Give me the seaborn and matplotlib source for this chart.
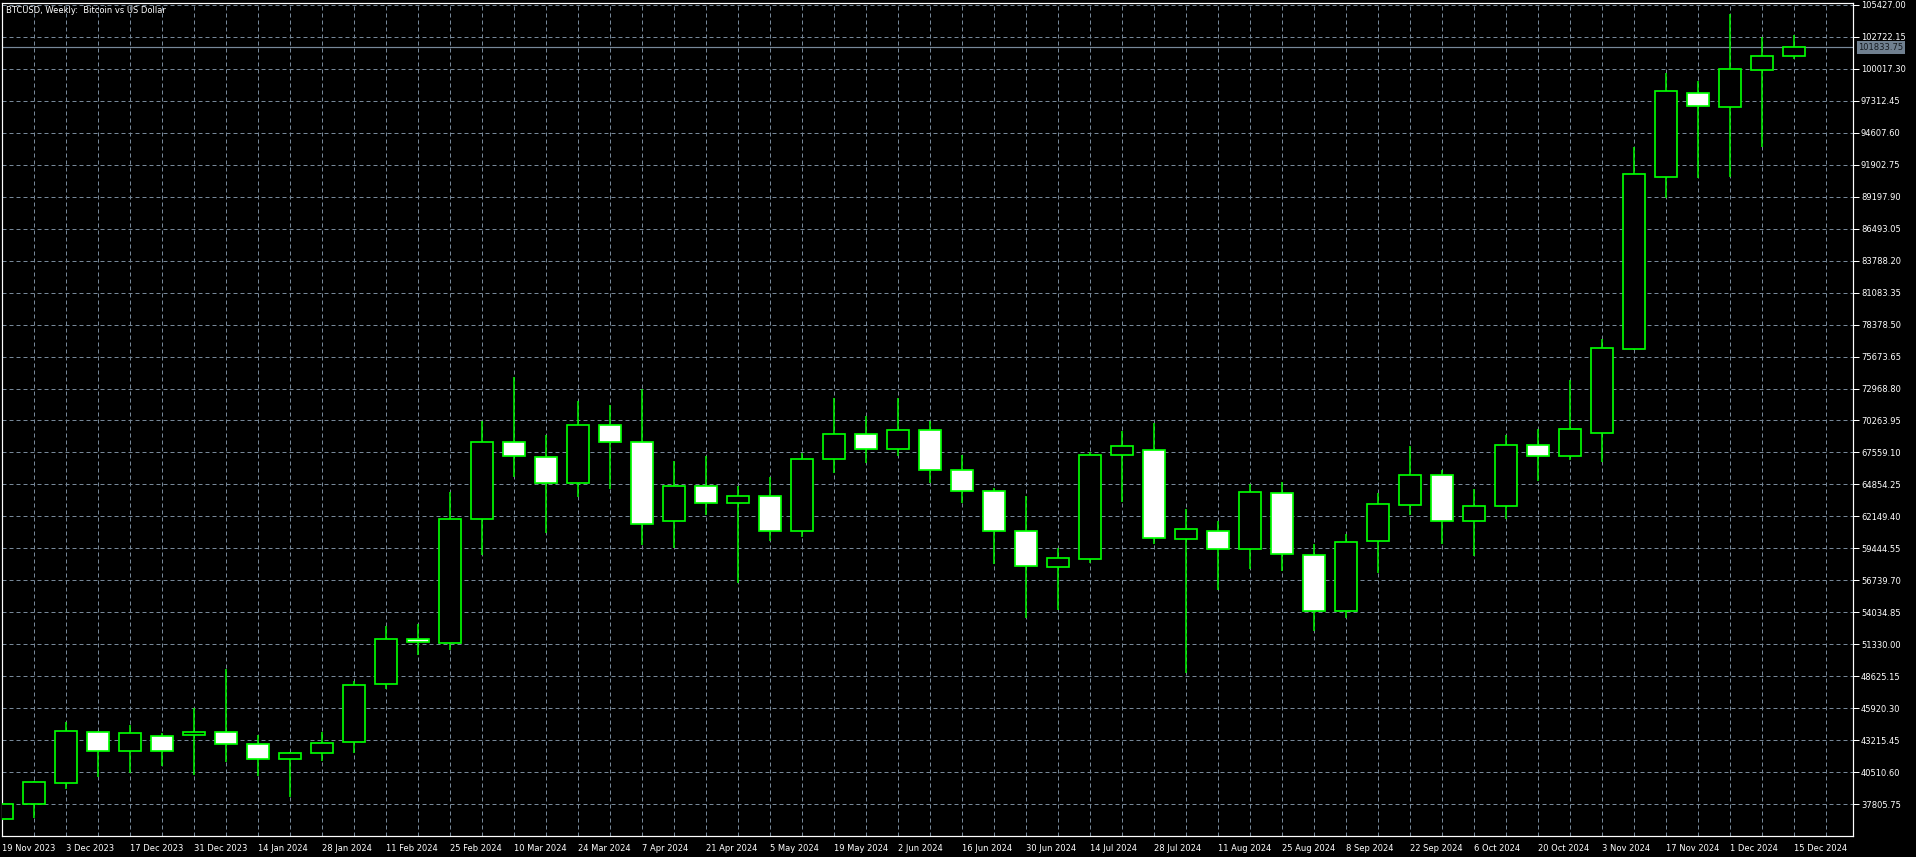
import numpy as np
import pandas as pd
import matplotlib
matplotlib.use("Agg")
import matplotlib.pyplot as plt
import matplotlib.transforms as mtransforms
from matplotlib.ticker import FixedLocator
import seaborn as sns

# =============================================================================
# DATA: BTCUSD weekly candles, 19 Nov 2023 .. 15 Dec 2024
# =============================================================================
weeks = pd.date_range("2023-11-19", periods=57, freq="7D")

opens = [36530, 37798, 39575, 43940, 42281, 43550, 43634, 43888, 42873, 41655,
         42112, 43042, 47948, 51754, 51466, 61954, 68416, 67147, 64999, 69853,
         68416, 61785, 64720, 63256, 63848, 60939, 67003, 69092, 67824, 69431,
         66047, 64271, 60939, 57894, 58571, 67316, 67739, 60262, 60939, 59366,
         64102, 58909, 54122, 60042, 63087, 65625, 61759, 63003, 68213, 67232,
         69177, 76332, 90880, 97933, 96800, 99929, 101063]
highs = [37850, 39750, 44759, 43990, 44505, 43803, 45918, 49216, 43634, 42247,
         43913, 48252, 52879, 53048, 64187, 70217, 73964, 69033, 71909, 71545,
         72949, 66859, 67257, 64720, 65506, 67485, 72137, 70640, 72137, 70217,
         67342, 64525, 63874, 59450, 67570, 69397, 70073, 62774, 61759, 64889,
         65033, 59839, 60660, 64102, 68103, 66073, 64491, 69033, 69566, 73685,
         77153, 93417, 99676, 98999, 104640, 102721, 102864]
lows = [36480, 36665, 39092, 40133, 40420, 41038, 40277, 41401, 40192, 38441,
        41486, 42137, 47525, 50426, 50849, 58884, 65455, 60770, 63815, 64466,
        59729, 59450, 62292, 56541, 60093, 60381, 65844, 66690, 67282, 64948,
        63307, 58123, 53530, 54232, 58232, 63341, 59814, 48929, 55923, 57725,
        57556, 52481, 53581, 57387, 62292, 59789, 58799, 61928, 65168, 66919,
        66775, 76200, 89103, 90744, 90880, 93417, 100860]
closes = [37800, 39659, 43973, 42281, 43803, 42281, 43888, 42873, 41655, 42137,
          42983, 47888, 51754, 51551, 61903, 68416, 67232, 64999, 69853, 68416,
          61480, 64720, 63256, 63848, 60939, 67003, 69092, 67824, 69431, 66047,
          64271, 60939, 57979, 58605, 67316, 68077, 60296, 61057, 59366, 64187,
          58943, 54122, 59958, 63172, 65625, 61759, 63003, 68162, 67282, 69515,
          76366, 91083, 98128, 96885, 99963, 101063, 101833.75]

price_ticks = [105427.00, 102722.15, 100017.30, 97312.45, 94607.60, 91902.75,
               89197.90, 86493.05, 83788.20, 81083.35, 78378.50, 75673.65,
               72968.80, 70263.95, 67559.10, 64854.25, 62149.40, 59444.55,
               56739.70, 54034.85, 51330.00, 48625.15, 45920.30, 43215.45,
               40510.60, 37805.75]
date_labels = ["19 Nov 2023", "3 Dec 2023", "17 Dec 2023", "31 Dec 2023",
               "14 Jan 2024", "28 Jan 2024", "11 Feb 2024", "25 Feb 2024",
               "10 Mar 2024", "24 Mar 2024", "7 Apr 2024", "21 Apr 2024",
               "5 May 2024", "19 May 2024", "2 Jun 2024", "16 Jun 2024",
               "30 Jun 2024", "14 Jul 2024", "28 Jul 2024", "11 Aug 2024",
               "25 Aug 2024", "8 Sep 2024", "22 Sep 2024", "6 Oct 2024",
               "20 Oct 2024", "3 Nov 2024", "17 Nov 2024", "1 Dec 2024",
               "15 Dec 2024"]
bid_price = 101833.75
title = "BTCUSD, Weekly:  Bitcoin vs US Dollar"

df = pd.DataFrame({"week": weeks, "open": opens, "high": highs,
                   "low": lows, "close": closes})
df["x"] = np.arange(len(df))
df["bull"] = df["close"] >= df["open"]

# =============================================================================
# STYLE
# =============================================================================
GREEN = "#00ff00"
GRID = "#778899"
PX = 0.72  # one pixel in points at dpi 100

sns.set_theme(style="dark", rc={
    "axes.facecolor": "black",
    "figure.facecolor": "black",
    "axes.edgecolor": "white",
    "text.color": "white",
    "xtick.color": "white",
    "ytick.color": "white",
})
plt.rcParams["font.family"] = ["DejaVu Sans"]

W, H = 1916, 857
fig = plt.figure(figsize=(W / 100, H / 100), dpi=100)
left_px, right_px, top_px, bottom_px = 2.3, 1853.3, 2.7, 835.7
ax = fig.add_axes([left_px / W, 1 - bottom_px / H,
                   (right_px - left_px) / W, (bottom_px - top_px) / H])

# price scale: 105427 at y=4.7px, 37805.75 at y=804.3px
scale = (105427.00 - 37805.75) / (804.3 - 4.7)
ax.set_ylim(105427.00 - (bottom_px - 4.7) * scale,
            105427.00 + (4.7 - top_px) * scale)
ax.set_xlim(0, (right_px - left_px) / 32.0)

# wicks first, bodies on top
ax.vlines(df["x"], df["low"], df["high"], color=GREEN, lw=1.5 * PX, zorder=3)
body_lo = df[["open", "close"]].min(axis=1)
body_h = (df["close"] - df["open"]).abs()
fills = np.where(df["bull"], "black", "white")
ax.bar(df["x"], body_h, bottom=body_lo, width=0.68, color=fills,
       edgecolor=GREEN, linewidth=1.7 * PX, zorder=4)

# bid line
ax.axhline(bid_price, color=GRID, lw=1.2 * PX, zorder=2)

# ticks & grid
ax.yaxis.tick_right()
ax.set_yticks(price_ticks)
ax.set_yticklabels([f"{v:.2f}" for v in price_ticks])
major_x = df["x"][::2].to_numpy()
ax.set_xticks(major_x)
ax.set_xticklabels(date_labels)
for lab in ax.get_xticklabels():
    lab.set_horizontalalignment("left")
ax.xaxis.set_minor_locator(FixedLocator(np.arange(0, 58)))
ax.tick_params(axis="both", which="major", labelsize=6, length=4,
               width=PX, colors="white")
ax.tick_params(axis="y", pad=1.5)
ax.tick_params(axis="x", pad=2)
ax.tick_params(axis="x", which="minor", length=0)
ax.grid(True, which="both", axis="x", color=GRID, lw=PX,
        linestyle=(0, (4, 3)), zorder=1)
ax.grid(True, which="major", axis="y", color=GRID, lw=PX,
        linestyle=(0, (4, 3)), zorder=1)
ax.set_axisbelow(True)
for sp in ax.spines.values():
    sp.set_color("white")
    sp.set_linewidth(1.2 * PX)
ax.set_xlabel("")
ax.set_ylabel("")

# bid price label box
trans = mtransforms.blended_transform_factory(fig.transFigure, ax.transData)
fig.text(1858.5 / W, bid_price, f"{bid_price:.2f}", transform=trans,
         fontsize=6, color="#151a20", va="center", ha="left",
         bbox=dict(boxstyle="square,pad=0.22", facecolor="#708090",
                   edgecolor="none"))

# chart caption
fig.text(6.5 / W, 1 - 10.5 / H, title, fontsize=6, color="white",
         va="center", ha="left")

fig.savefig("out.png", dpi=100, facecolor="black")
